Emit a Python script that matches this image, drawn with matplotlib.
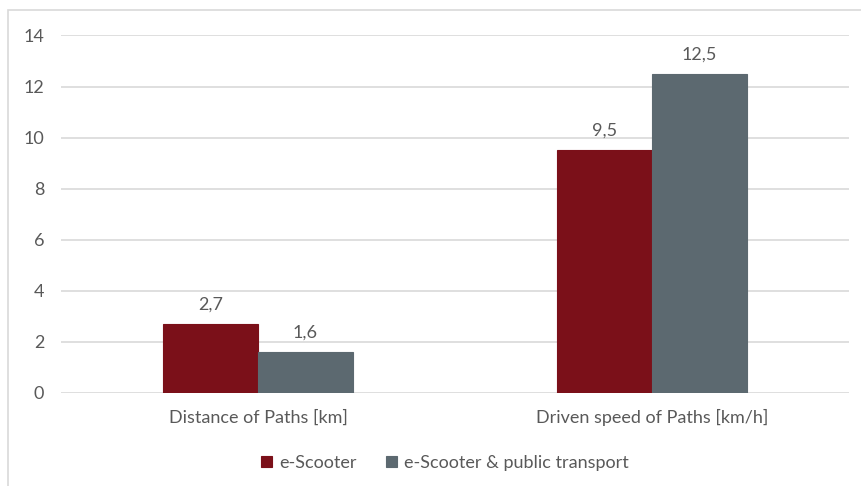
import matplotlib

matplotlib.use("Agg")
import matplotlib.pyplot as plt
import numpy as np
from matplotlib.patches import Rectangle

categories = ["Distance of Paths [km]", "Driven speed of Paths [km/h]"]
series_names = ["e-Scooter", "e-Scooter & public transport"]
scooter = [2.7, 9.5]
scooter_pt = [1.6, 12.5]
value_labels = [["2,7", "9,5"], ["1,6", "12,5"]]
yticks = [0, 2, 4, 6, 8, 10, 12, 14]

RED = "#7b1019"
GRAY = "#5c6970"
TEXT = "#595959"
GRID = "#d9d9d9"
FS = 13

plt.rcParams["font.family"] = ["Lato", "DejaVu Sans"]

W, H = 861, 486
fig = plt.figure(figsize=(W / 100, H / 100), dpi=100)
fig.patch.set_facecolor("white")

# outer chart frame (runs off the right and bottom edges)
fig.patches.append(Rectangle((8 / W, -0.1), 1.2, 1 - 10 / H + 0.1,
                             transform=fig.transFigure, fill=False,
                             edgecolor=GRID, linewidth=1.2))

ax = fig.add_axes([61 / W, 1 - 392.7 / H, (849 - 61) / W, (392.7 - 35.5) / H])
x = np.arange(len(categories))
width = 0.24
bars = []
for i, (vals, color) in enumerate([(scooter, RED), (scooter_pt, GRAY)]):
    b = ax.bar(x + (i - 0.5) * width, vals, width, color=color,
               edgecolor=color, linewidth=0.8, label=series_names[i], zorder=3)
    bars.append(b)
    for rect, lab in zip(b, value_labels[i]):
        ax.text(rect.get_x() + rect.get_width() / 2, rect.get_height() + 0.45,
                lab, ha="center", va="bottom", fontsize=FS, color=TEXT)

ax.set_xlim(-0.5, 1.5)
ax.set_ylim(0, 14)
ax.set_yticks(yticks)
ax.set_xticks(x)
ax.set_xticklabels(categories)
ax.grid(axis="y", color=GRID, linewidth=1.2, zorder=0)
for s in ax.spines.values():
    s.set_visible(False)
ax.tick_params(axis="both", length=0, colors=TEXT, labelsize=FS)
ax.tick_params(axis="y", pad=12)
ax.tick_params(axis="x", pad=12)

fig.legend(handles=bars, labels=series_names, loc="center",
           bbox_to_anchor=(445 / W, 1 - 463 / H), ncol=2, frameon=False,
           fontsize=FS, labelcolor=TEXT, handlelength=0.6, handleheight=0.6,
           handletextpad=0.4, columnspacing=1.6)

fig.savefig("out.png", dpi=100)
